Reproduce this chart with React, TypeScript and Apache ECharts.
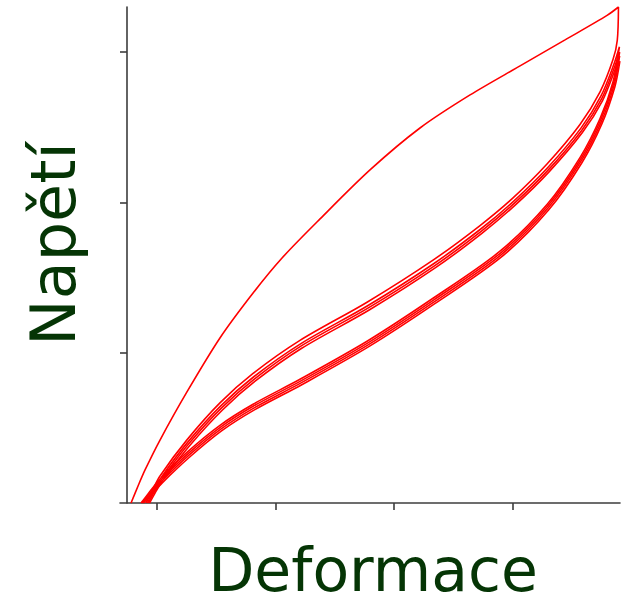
import React, { useEffect, useRef } from "react";
import * as echarts from "echarts";

// Axis ticks (unlabelled in the reference)
const xTicks = [0.25, 1.25, 2.25, 3.25];
const yTicks = [1, 2, 3];

// First (virgin) loading curve
const upX = [0.034, 0.093, 0.152, 0.278, 0.505, 0.783, 1.062, 1.306, 1.626, 2.047, 2.468, 2.89, 3.311, 3.69, 4.044, 4.14];
const upY = [0, 0.113, 0.22, 0.419, 0.739, 1.098, 1.397, 1.63, 1.89, 2.216, 2.495, 2.715, 2.908, 3.081, 3.244, 3.3];

// Middle band curves (ascending order)
const m1X = [0.16, 0.211, 0.278, 0.505, 0.783, 1.062, 1.457, 2.022, 2.578, 2.974, 3.252, 3.538, 3.816, 3.985, 4.094, 4.13];
const m1Y = [0, 0.08, 0.18, 0.42, 0.666, 0.862, 1.082, 1.336, 1.616, 1.846, 2.03, 2.255, 2.518, 2.735, 2.95, 3.078];
const m2X = [0.17, 0.22, 0.287, 0.512, 0.79, 1.068, 1.462, 2.027, 2.583, 2.98, 3.258, 3.545, 3.824, 3.994, 4.103, 4.148];
const m2Y = [0, 0.074, 0.169, 0.405, 0.646, 0.84, 1.059, 1.312, 1.592, 1.823, 2.009, 2.232, 2.494, 2.71, 2.922, 3.035];
const m3X = [0.18, 0.228, 0.295, 0.52, 0.797, 1.075, 1.468, 2.033, 2.59, 2.986, 3.264, 3.551, 3.83, 4.0, 4.108, 4.15];
const m3Y = [0, 0.07, 0.161, 0.394, 0.633, 0.826, 1.045, 1.298, 1.578, 1.809, 1.995, 2.218, 2.479, 2.692, 2.903, 3.0];
const m4X = [0.19, 0.236, 0.303, 0.527, 0.804, 1.082, 1.475, 2.04, 2.596, 2.992, 3.27, 3.557, 3.836, 4.005, 4.112, 4.15];
const m4Y = [0, 0.066, 0.153, 0.381, 0.619, 0.812, 1.031, 1.284, 1.564, 1.796, 1.982, 2.205, 2.465, 2.676, 2.884, 2.975];

// Lower band curves (ascending order)
const l1X = [0.118, 0.177, 0.278, 0.505, 0.783, 1.062, 1.457, 2.022, 2.578, 3.142, 3.538, 3.816, 3.985, 4.094, 4.148];
const l1Y = [0, 0.06, 0.16, 0.337, 0.517, 0.657, 0.823, 1.076, 1.362, 1.675, 1.986, 2.298, 2.558, 2.802, 3.035];
const l2X = [0.125, 0.183, 0.284, 0.51, 0.788, 1.066, 1.461, 2.026, 2.582, 3.146, 3.542, 3.821, 3.99, 4.099, 4.15];
const l2Y = [0, 0.056, 0.151, 0.325, 0.505, 0.645, 0.811, 1.064, 1.35, 1.663, 1.975, 2.287, 2.548, 2.793, 3.0];
const l3X = [0.132, 0.19, 0.29, 0.515, 0.793, 1.071, 1.466, 2.031, 2.587, 3.151, 3.547, 3.826, 3.995, 4.104, 4.15];
const l3Y = [0, 0.052, 0.142, 0.313, 0.493, 0.633, 0.799, 1.052, 1.338, 1.651, 1.963, 2.276, 2.536, 2.782, 2.975];
const l4X = [0.14, 0.197, 0.297, 0.521, 0.799, 1.077, 1.472, 2.037, 2.593, 3.157, 3.553, 3.832, 4.001, 4.11, 4.152];
const l4Y = [0, 0.048, 0.134, 0.301, 0.481, 0.621, 0.787, 1.04, 1.326, 1.639, 1.951, 2.264, 2.524, 2.77, 2.94];

const xLabel = "Deformace";
const yLabel = "Napětí";

const pts = (xs: number[], ys: number[]) => xs.map((x, i) => [x, ys[i]]);

const cycles: { up: [number[], number[]]; down?: [number[], number[]] }[] = [
  { up: [upX, upY], down: [m1X, m1Y] },
  { up: [l1X, l1Y], down: [m2X, m2Y] },
  { up: [l2X, l2Y], down: [m3X, m3Y] },
  { up: [l3X, l3Y], down: [m4X, m4Y] },
  { up: [l4X, l4Y] },
];

const AXIS_COLOR = "#3d3d3d";
const TEXT_COLOR = "#053505";

export default function App() {
  const ref = useRef<HTMLDivElement>(null);
  useEffect(() => {
    if (!ref.current) return;
    const chart = echarts.init(ref.current, null, { renderer: "svg" });
    const axisLine = { show: true, onZero: true, lineStyle: { color: AXIS_COLOR, width: 1.6 } };
    chart.setOption({
      animation: false,
      backgroundColor: "#ffffff",
      grid: { left: 120, top: 7, width: 500, height: 496 },
      xAxis: {
        type: "value",
        min: -0.059,
        max: 4.153,
        axisLine,
        axisTick: { show: true, inside: false, length: 7, customValues: xTicks, lineStyle: { color: AXIS_COLOR, width: 1.6 } },
        axisLabel: { show: false },
        splitLine: { show: false },
      },
      yAxis: {
        type: "value",
        min: 0,
        max: 3.3,
        axisLine,
        axisTick: { show: true, inside: false, length: 7, customValues: yTicks, lineStyle: { color: AXIS_COLOR, width: 1.6 } },
        axisLabel: { show: false },
        splitLine: { show: false },
      },
      series: cycles.map((c, i) => ({
        name: "Cyklus " + (i + 1),
        type: "line",
        symbol: "none",
        smooth: 0.3,
        lineStyle: { color: "#ff0000", width: 1.6 },
        data: [...pts(c.up[0], c.up[1]), ...(c.down ? pts(c.down[0], c.down[1]).reverse() : [])],
      })),
      graphic: [
        {
          type: "text",
          x: 373,
          y: 570,
          style: {
            text: xLabel,
            fill: TEXT_COLOR,
            font: '60px "DejaVu Sans"',
            align: "center",
            verticalAlign: "middle",
          },
        },
        {
          type: "text",
          x: 53,
          y: 244,
          rotation: Math.PI / 2,
          style: {
            text: yLabel,
            fill: TEXT_COLOR,
            font: '62px "DejaVu Sans"',
            align: "center",
            verticalAlign: "middle",
          },
        },
      ],
    });
    return () => chart.dispose();
  }, []);
  return (
    <div
      ref={ref}
      style={{ position: "fixed", left: 0, top: 0, width: 623, height: 608, background: "#fff" }}
    />
  );
}
